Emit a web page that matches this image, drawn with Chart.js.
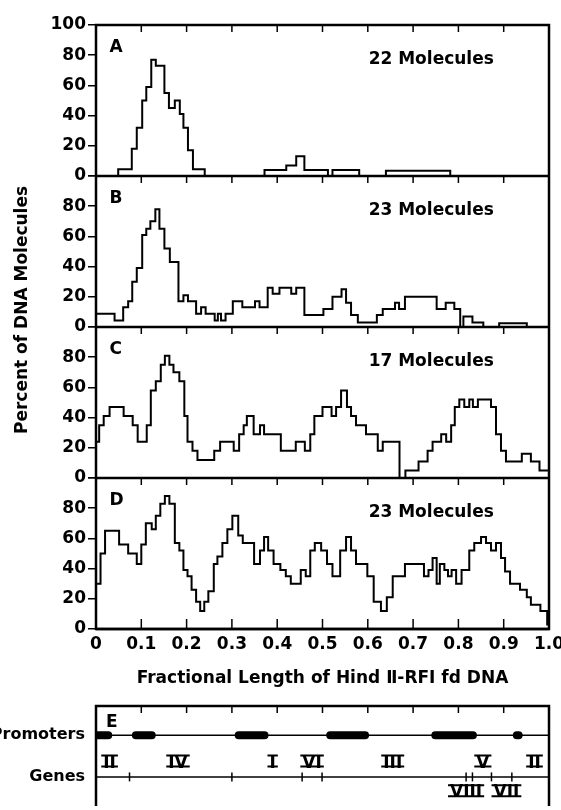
<!DOCTYPE html>
<html>
<head>
<meta charset="utf-8">
<style>
  body { margin: 0; background: #fff; }
  .wrap { position: relative; width: 561px; height: 810px; overflow: hidden; background: #fff; }
  canvas { position: absolute; left: 0; }
</style>
</head>
<body>
<div class="wrap">
  <canvas id="histograms" width="561" height="700" style="top:0"></canvas>
  <canvas id="genemap" width="561" height="110" style="top:700px"></canvas>
</div>
<script src="https://cdn.jsdelivr.net/npm/chart.js"></script>
<script>
// panels A-D: step histograms, edges are the left end of each step (last one = right end)
const panelLetters = ['A', 'B', 'C', 'D'];
const moleculeCounts = [22, 23, 17, 23];

const aEdges = [0, 0.049, 0.079, 0.090, 0.102, 0.111, 0.122, 0.132, 0.151, 0.161, 0.174, 0.185, 0.193, 0.203, 0.214, 0.240, 0.372, 0.420, 0.442, 0.460, 0.512, 0.522, 0.581, 0.640, 0.782, 1.0];
const aPercents = [0, 4.5, 18, 32, 50, 59, 77, 73, 55, 45, 50, 41, 32, 17, 4.5, 0, 4, 7, 13, 4, 0, 4, 0, 3.5, 0];

const bEdges = [0, 0.041, 0.060, 0.071, 0.080, 0.090, 0.102, 0.111, 0.120, 0.131, 0.140, 0.151, 0.163, 0.182, 0.193, 0.203, 0.221, 0.232, 0.242, 0.262, 0.269, 0.276, 0.286, 0.302, 0.323, 0.351, 0.361, 0.379, 0.390, 0.405, 0.431, 0.442, 0.460, 0.502, 0.522, 0.542, 0.552, 0.563, 0.578, 0.620, 0.633, 0.660, 0.669, 0.682, 0.752, 0.772, 0.791, 0.804, 0.811, 0.831, 0.855, 0.890, 0.951, 1.0];
const bPercents = [8.7, 4.3, 13, 17, 30, 39, 61, 65, 70, 78, 65, 52, 43, 17, 21, 17, 8.7, 13, 8.7, 4.3, 8.7, 4.3, 8.7, 17, 13, 17, 13, 26, 22, 26, 22, 26, 8, 12, 20, 25, 16, 8, 3, 8, 12, 16, 12, 20, 12, 16, 12, 0, 7, 3, 0, 2.5, 0];

const cEdges = [0, 0.007, 0.017, 0.030, 0.061, 0.081, 0.092, 0.112, 0.121, 0.132, 0.143, 0.152, 0.162, 0.171, 0.184, 0.195, 0.202, 0.213, 0.224, 0.261, 0.274, 0.304, 0.316, 0.326, 0.333, 0.348, 0.362, 0.371, 0.408, 0.441, 0.461, 0.473, 0.482, 0.500, 0.520, 0.530, 0.541, 0.554, 0.563, 0.574, 0.596, 0.622, 0.633, 0.670, 0.683, 0.712, 0.732, 0.743, 0.762, 0.773, 0.784, 0.792, 0.802, 0.813, 0.824, 0.832, 0.843, 0.872, 0.883, 0.894, 0.905, 0.940, 0.960, 0.979, 1.0];
const cPercents = [24, 35, 41, 47, 41, 35, 24, 35, 58, 64, 75, 81, 75, 70, 64, 41, 24, 18, 12, 18, 24, 18, 29, 35, 41, 29, 35, 29, 18, 24, 18, 29, 41, 47, 41, 47, 58, 47, 41, 35, 29, 18, 24, 0, 5, 11, 18, 24, 29, 24, 35, 47, 52, 47, 52, 47, 52, 47, 29, 18, 11, 16, 11, 5];

const dEdges = [0, 0.010, 0.020, 0.051, 0.071, 0.090, 0.100, 0.110, 0.123, 0.132, 0.142, 0.152, 0.162, 0.174, 0.184, 0.193, 0.202, 0.211, 0.221, 0.230, 0.239, 0.248, 0.260, 0.268, 0.279, 0.290, 0.301, 0.314, 0.324, 0.349, 0.362, 0.371, 0.380, 0.392, 0.407, 0.419, 0.430, 0.452, 0.463, 0.473, 0.483, 0.497, 0.510, 0.522, 0.539, 0.552, 0.563, 0.574, 0.599, 0.613, 0.629, 0.642, 0.655, 0.682, 0.724, 0.734, 0.743, 0.752, 0.759, 0.769, 0.777, 0.785, 0.795, 0.807, 0.824, 0.835, 0.850, 0.861, 0.872, 0.883, 0.894, 0.903, 0.914, 0.936, 0.951, 0.960, 0.981, 0.996, 1.0];
const dPercents = [30, 50, 65, 56, 50, 43, 56, 70, 66, 75, 83, 88, 83, 57, 52, 39, 35, 26, 18, 12, 18, 25, 43, 48, 57, 66, 75, 62, 57, 43, 52, 61, 52, 43, 39, 35, 30, 39, 35, 52, 57, 52, 43, 35, 52, 61, 52, 43, 35, 18, 12, 21, 35, 43, 35, 39, 47, 30, 43, 39, 35, 39, 30, 39, 52, 57, 61, 57, 52, 57, 47, 38, 30, 26, 21, 16, 12, 3];

// panel E: promoter blocks and gene map
const rowNames = { 1: 'Genes', 2: 'Promoters' };
const promoterStarts = [0, 0.088, 0.315, 0.517, 0.749, 0.929];
const promoterEnds = [0.027, 0.123, 0.372, 0.594, 0.832, 0.933];
const geneBoundaries = [0.074, 0.300, 0.455, 0.499, 0.817, 0.831, 0.873, 0.918];
const geneNames = ['II', 'IV', 'I', 'VI', 'III', 'V', 'II', 'VIII', 'VII'];
const geneLabelX = [0.030, 0.181, 0.390, 0.477, 0.655, 0.854, 0.968, 0.817, 0.906];
const geneLabelBelow = [false, false, false, false, false, false, false, true, true];

Chart.defaults.font.family = '"DejaVu Sans", sans-serif';
Chart.defaults.color = '#000';

const FONT = 'bold 17px "DejaVu Sans"';

function steps(edges, percents) {
    const pts = percents.map((p, i) => ({ x: edges[i], y: p }));
    pts.push({ x: edges[edges.length - 1], y: percents[percents.length - 1] });
    return pts;
}

const panelIds = ['yA', 'yB', 'yC', 'yD'];
const panelData = [[aEdges, aPercents], [bEdges, bPercents], [cEdges, cPercents], [dEdges, dPercents]];

function yPanel(id) {
    return {
        type: 'linear',
        position: 'left',
        stack: 'panels',
        stackWeight: 1,
        min: 0,
        max: 100,
        border: { display: false },
        grid: { drawOnChartArea: false, drawTicks: true, tickLength: 8, color: '#000', lineWidth: 1.5 },
        ticks: {
            stepSize: 20,
            autoSkip: false,
            padding: 2,
            font: { size: 17, weight: 'bold' },
            callback: v => (v === 100 && id !== 'yA') ? '' : v
        },
        afterFit(scale) {
            scale.width = 96;
            scale.paddingTop = 0;
            scale.paddingBottom = 0;
        }
    };
}

const histogramFrame = {
    id: 'histogramFrame',
    afterDatasetsDraw(chart) {
        const { ctx, chartArea: a, scales } = chart;
        const x = scales.x;
        const line = (x1, y1, x2, y2) => { ctx.beginPath(); ctx.moveTo(x1, y1); ctx.lineTo(x2, y2); ctx.stroke(); };
        ctx.save();
        ctx.strokeStyle = '#000';
        ctx.lineWidth = 2.5;
        ctx.strokeRect(a.left, a.top, a.width, a.height);
        panelIds.forEach(id => line(a.left, scales[id].bottom, a.right, scales[id].bottom));

        ctx.lineWidth = 1.5;
        x.ticks.map(t => t.value).filter(v => v > 0.001 && v < 0.999).forEach(v => {
            const px = x.getPixelForValue(v);
            panelIds.forEach(id => line(px, scales[id].top, px, scales[id].top + 7));
            line(px, a.bottom, px, a.bottom - 10);
        });

        ctx.font = FONT;
        ctx.fillStyle = '#000';
        ctx.textBaseline = 'middle';
        panelIds.forEach((id, i) => {
            const s = scales[id];
            ctx.textAlign = 'left';
            ctx.fillText(panelLetters[i], x.getPixelForValue(0.03), s.getPixelForValue(85));
            ctx.textAlign = 'center';
            ctx.fillText(moleculeCounts[i] + ' Molecules', x.getPixelForValue(0.74), s.getPixelForValue(77));
        });

        ctx.translate(23, 310);
        ctx.rotate(-Math.PI / 2);
        ctx.fillText('Percent of DNA Molecules', 0, 0);
        ctx.restore();
    }
};

new Chart(document.getElementById('histograms'), {
    type: 'line',
    data: {
        datasets: panelData.map((d, i) => ({
            label: panelLetters[i],
            data: steps(d[0], d[1]),
            yAxisID: panelIds[i],
            stepped: true,
            borderColor: '#000',
            borderWidth: 2,
            pointRadius: 0,
            fill: false
        }))
    },
    options: {
        responsive: false,
        animation: false,
        layout: { padding: { top: 25, right: 12, bottom: 0, left: 0 } },
        plugins: { legend: { display: false }, tooltip: { enabled: false } },
        scales: {
            x: {
                type: 'linear',
                min: 0,
                max: 1,
                border: { display: false },
                grid: { display: false, drawTicks: false },
                ticks: {
                    stepSize: 0.1,
                    autoSkip: false,
                    padding: 5,
                    maxRotation: 0,
                    font: { size: 17, weight: 'bold' },
                    callback: v => Math.abs(v) < 1e-9 ? '0' : v.toFixed(1)
                },
                title: {
                    display: true,
                    text: 'Fractional Length of Hind Ⅱ-RFI fd DNA',
                    font: { size: 17, weight: 'bold' },
                    padding: { top: 0, bottom: 11 }
                },
                afterFit(scale) {
                    scale.height = 71;
                    scale.paddingLeft = 0;
                    scale.paddingRight = 0;
                }
            },
            // defined bottom-up: the last scale of a stack is placed on top
            yD: yPanel('yD'),
            yC: yPanel('yC'),
            yB: yPanel('yB'),
            yA: yPanel('yA')
        }
    },
    plugins: [histogramFrame]
});

// roman numeral with the bars over and under it, as lettered in the map
function romanLabel(ctx, text, cx, cy) {
    ctx.fillText(text, cx, cy);
    const m = ctx.measureText(text);
    const top = cy - m.actualBoundingBoxAscent;
    const bottom = cy + m.actualBoundingBoxDescent;
    const half = m.width / 2 + 2;
    ctx.beginPath();
    ctx.moveTo(cx - half, top + 1);
    ctx.lineTo(cx + half, top + 1);
    ctx.moveTo(cx - half, bottom - 1);
    ctx.lineTo(cx + half, bottom - 1);
    ctx.stroke();
}

const mapFrame = {
    id: 'mapFrame',
    afterDatasetsDraw(chart) {
        const { ctx, chartArea: a, scales } = chart;
        const x = scales.x, y = scales.y;
        const line = (x1, y1, x2, y2) => { ctx.beginPath(); ctx.moveTo(x1, y1); ctx.lineTo(x2, y2); ctx.stroke(); };
        ctx.save();
        ctx.strokeStyle = '#000';
        ctx.lineWidth = 2.5;
        ctx.beginPath();
        ctx.moveTo(a.left, a.bottom + 2);
        ctx.lineTo(a.left, a.top);
        ctx.lineTo(a.right, a.top);
        ctx.lineTo(a.right, a.bottom + 2);
        ctx.stroke();

        ctx.lineWidth = 1.5;
        for (let k = 1; k < 10; k++) {
            const px = x.getPixelForValue(k / 10);
            line(px, a.top, px, a.top + 7);
        }

        ctx.fillStyle = '#000';
        ctx.font = FONT;
        ctx.textBaseline = 'middle';
        ctx.textAlign = 'left';
        ctx.fillText('E', x.getPixelForValue(0.022), y.getPixelForValue(2.31));
        ctx.textAlign = 'center';
        ctx.lineWidth = 2;
        geneNames.forEach((g, i) => {
            romanLabel(ctx, g, x.getPixelForValue(geneLabelX[i]), y.getPixelForValue(geneLabelBelow[i] ? 0.62 : 1.33));
        });
        ctx.restore();
    }
};

const mapDatasets = [
    { data: [{ x: 0, y: 2 }, { x: 1, y: 2 }], borderWidth: 1.5 },
    { data: [{ x: 0, y: 1 }, { x: 1, y: 1 }], borderWidth: 1.5 },
    {
        data: geneBoundaries.map(v => ({ x: v, y: 1 })),
        showLine: false,
        pointStyle: 'line',
        rotation: 90,
        pointRadius: 4.5,
        pointBorderWidth: 1.5
    }
].concat(promoterStarts.map((s, i) => ({
    data: [{ x: s, y: 2 }, { x: promoterEnds[i], y: 2 }],
    borderWidth: 8,
    borderCapStyle: 'round',
    clip: 0
})));

mapDatasets.forEach(d => {
    d.borderColor = '#000';
    d.backgroundColor = '#000';
    if (d.pointRadius === undefined) d.pointRadius = 0;
});

new Chart(document.getElementById('genemap'), {
    type: 'line',
    data: { datasets: mapDatasets },
    options: {
        responsive: false,
        animation: false,
        layout: { padding: { top: 4, right: 12, bottom: 0, left: 0 } },
        plugins: { legend: { display: false }, tooltip: { enabled: false } },
        scales: {
            x: { type: 'linear', min: 0, max: 1, display: false },
            y: {
                type: 'linear',
                min: 0.35,
                max: 2.7,
                border: { display: false },
                grid: { display: false, drawTicks: false },
                afterBuildTicks(scale) { scale.ticks = [{ value: 1 }, { value: 2 }]; },
                ticks: {
                    padding: 11,
                    font: { size: 16, weight: 'bold' },
                    callback: v => rowNames[v] || ''
                },
                afterFit(scale) {
                    scale.width = 96;
                    scale.paddingTop = 0;
                    scale.paddingBottom = 0;
                }
            }
        }
    },
    plugins: [mapFrame]
});
</script>
</body>
</html>
